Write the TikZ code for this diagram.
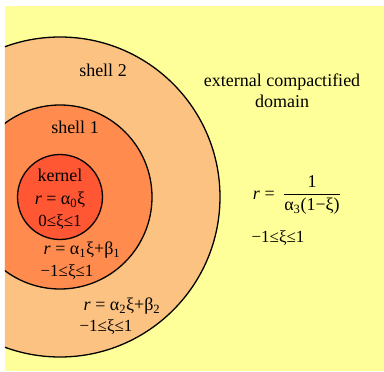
\documentclass[tikz,border=0pt]{standalone}
\usepackage{fontspec}
\setmainfont{Liberation Serif}
\usetikzlibrary{positioning}
\definecolor{domainbg}{HTML}{FFFF99}
\definecolor{shelltwo}{HTML}{FCC282}
\definecolor{shellone}{HTML}{FF8C4E}
\definecolor{kernelred}{HTML}{FF5634}
\newcommand{\idx}[1]{\textsubscript{#1}}
\newcommand{\rng}[1]{#1≤ξ≤1}

\begin{document}
\begin{tikzpicture}[
  x=1pt, y=-1pt,
  font=\fontsize{18}{21}\selectfont,
  zone/.style={circle, draw=black, line width=1.3pt, inner sep=0pt, minimum size=#1},
  lbl/.style={inner sep=0pt, align=center},
  rng/.style={lbl, font=\fontsize{17}{20}\selectfont},
]
\useasboundingbox (0,0) rectangle (384,372);

%% background : the external domain
\path[fill=domainbg] (5,6) rectangle (384,371);

%% nested zones, cut at the left edge
\begin{scope}
  \clip (5,6) rectangle (384,371);
  \node[zone=320pt, fill=shelltwo] (shell2) at (60,197) {};
  \node[zone=184pt, fill=shellone] (shell1) at (60,197) {};
  \node[zone=85pt,  fill=kernelred] (kern)  at (60,197) {};
\end{scope}

%% kernel
\node[lbl] (kernlbl) at (60,175) {kernel};
\node[lbl] (kerneq)  at (60,200) {\textit{r} = α\idx{0}ξ};
\node[rng] (kernrng) at (60,222) {\rng{0}};

%% shell 1
\node[lbl] (s1lbl) at (75,127) {shell 1};
\node[lbl] (s1eq)  at (82,250) {\textit{r} = α\idx{1}ξ+β\idx{1}};
\node[rng] (s1rng) at (67,272) {\rng{−1}};

%% shell 2
\node[lbl] (s2lbl) at (103,70) {shell 2};
\node[lbl] (s2eq)  at (122,306) {\textit{r} = α\idx{2}ξ+β\idx{2}};
\node[rng] (s2rng) at (106,327) {\rng{−1}};

%% external compactified domain
\node[lbl] (extlbl) at (282,91) {external compactified\\domain};
\node[lbl] (extfrac) at (312,195)
  {$\displaystyle\frac{\mbox{1}}{\mbox{α\idx{3}(1−ξ)}}$};
\node[lbl, left=8pt of extfrac] (exteq) {\textit{r} =};
\node[rng] (extrng) at (278,238) {\rng{−1}};

\end{tikzpicture}
\end{document}
